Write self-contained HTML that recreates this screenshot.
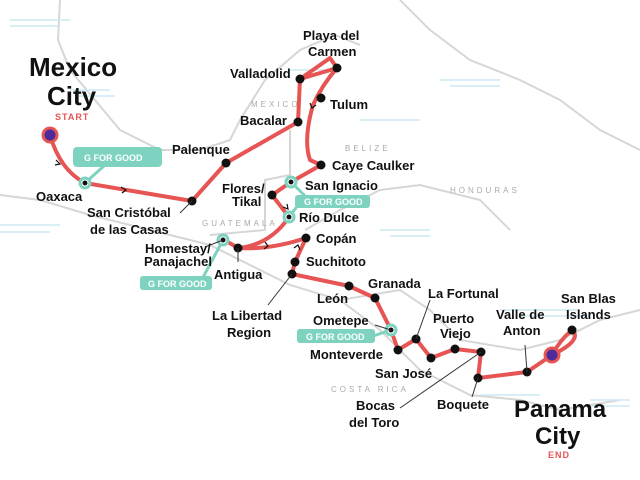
<!DOCTYPE html>
<html><head><meta charset="utf-8"><style>
html,body{margin:0;padding:0;background:#fff}
svg{display:block}
text{font-family:"Liberation Sans",sans-serif;fill:#111}
.l{font-size:13px;font-weight:bold}
.c{font-size:8px;letter-spacing:3px;fill:#aaa}
.g{font-size:9px;fill:#fff;font-weight:bold}
</style></head><body>
<svg width="640" height="480" viewBox="0 0 640 480" xmlns="http://www.w3.org/2000/svg">
<g fill="none" stroke="#d6d6d6" stroke-width="2">
<path d="M60 0 L58 40 L70 70 L95 100 L120 130 L160 150 L200 150 L230 140 L240 120 L265 80 L300 50 L335 35 L360 45"/>
<path d="M0 195 L40 200 L90 215 L150 230 L210 245 L250 265 L290 285 L340 300 L380 330 L420 370 L470 395 L520 400 L560 410 L620 400"/>
<path d="M290 130 L290 175 L265 180 L265 230 L210 235"/>
<path d="M305 230 L340 210 L380 190 L420 185 L480 200 L510 230"/>
<path d="M340 300 L400 290 L430 310 L460 340 L520 350 L560 340 L600 320 L640 310"/>
<path d="M400 0 L430 30 L470 60 L520 80 L560 100 L600 130 L640 150"/>
</g>
<g stroke="#cde8f2" stroke-width="1.5">
<path d="M10 20h60M10 26h50M70 90h40M75 96h40M290 70h50M360 120h60M380 230h50M390 236h40M0 225h60M0 232h50M480 395h60M500 310h80M520 316h70M590 400h40M590 406h40M440 80h60M450 86h50"/>
</g>
<text class="c" x="251" y="107">MEXICO</text>
<text class="c" x="345" y="151">BELIZE</text>
<text class="c" x="450" y="193">HONDURAS</text>
<text class="c" x="202" y="226">GUATEMALA</text>
<text class="c" x="331" y="392">COSTA RICA</text>
<g fill="none" stroke="#e75454" stroke-width="4" stroke-linejoin="round" stroke-linecap="round">
<path d="M50 135 Q60 170 85 183 L192 201 L226 163 L298 122 L300 79 L337 68 Q322 85 313 105 Q303 140 310 160 L321 165 L291 182 L272 195 L289 217 Q270 245 238 248 Q225 240 223 240"/>
<path d="M300 79 L330 58 L337 68"/>
<path d="M238 248 Q270 250 306 238 L295 262 L292 274 L349 286 L375 298 L391 330 L398 350 L416 339 L431 358 L455 349 L481 352 L478 378 L527 372 L552 355 Q560 340 572 330 Q583 340 552 355"/>
</g>
<g fill="none" stroke="#111" stroke-width="1.2">
<path d="M56 160 l4 4 l-5 1"/><path d="M121 187 l5 3 l-4 3"/><path d="M310 103 l2 5 l4 -3"/><path d="M283 207 l5 2 l-1 -5"/><path d="M265 242 l3 4 l-4 3"/><path d="M300 250 l-2 -5 l-4 3"/>
</g>
<g fill="none" stroke="#7dd3c0" stroke-width="3">
<path d="M85 183 L105 165"/><path d="M291 182 L305 196 L289 217"/><path d="M223 240 L200 283"/><path d="M391 330 L370 337"/>
</g>
<g fill="#7dd3c0">
<rect x="73" y="147" width="89" height="20" rx="4"/>
<rect x="295" y="195" width="75" height="13" rx="3"/>
<rect x="140" y="276" width="72" height="14" rx="3"/>
<rect x="297" y="329" width="78" height="14" rx="3"/>
</g>
<text class="g" x="84" y="161" font-size="11">G FOR GOOD</text>
<text class="g" x="304" y="205">G FOR GOOD</text>
<text class="g" x="148" y="287">G FOR GOOD</text>
<text class="g" x="306" y="340">G FOR GOOD</text>
<g fill="#fff" stroke="#7dd3c0" stroke-width="3">
<circle cx="85" cy="183" r="5"/><circle cx="291" cy="182" r="5"/><circle cx="289" cy="217" r="5"/><circle cx="223" cy="240" r="5"/><circle cx="391" cy="330" r="5"/>
</g>
<g fill="#111">
<circle cx="85" cy="183" r="2.5"/><circle cx="291" cy="182" r="2.5"/><circle cx="289" cy="217" r="2.5"/><circle cx="223" cy="240" r="2.5"/><circle cx="391" cy="330" r="2.5"/>
<circle cx="192" cy="201" r="4.5"/><circle cx="226" cy="163" r="4.5"/><circle cx="298" cy="122" r="4.5"/><circle cx="300" cy="79" r="4.5"/><circle cx="337" cy="68" r="4.5"/><circle cx="321" cy="98" r="4.5"/><circle cx="321" cy="165" r="4.5"/><circle cx="272" cy="195" r="4.5"/><circle cx="238" cy="248" r="4.5"/><circle cx="306" cy="238" r="4.5"/><circle cx="295" cy="262" r="4.5"/><circle cx="292" cy="274" r="4.5"/><circle cx="349" cy="286" r="4.5"/><circle cx="375" cy="298" r="4.5"/><circle cx="398" cy="350" r="4.5"/><circle cx="416" cy="339" r="4.5"/><circle cx="431" cy="358" r="4.5"/><circle cx="455" cy="349" r="4.5"/><circle cx="481" cy="352" r="4.5"/><circle cx="478" cy="378" r="4.5"/><circle cx="527" cy="372" r="4.5"/><circle cx="572" cy="330" r="4.5"/>
</g>
<circle cx="50" cy="135" r="7" fill="#4b2c9a" stroke="#e75454" stroke-width="3"/>
<circle cx="552" cy="355" r="7" fill="#4b2c9a" stroke="#e75454" stroke-width="3"/>
<g stroke="#333" stroke-width="1" fill="none">
<path d="M192 201 L180 213"/><path d="M238 248 L238 262"/><path d="M223 240 L205 247"/><path d="M292 274 L268 305"/><path d="M391 330 L375 325"/><path d="M416 339 L430 300"/><path d="M481 352 L400 408"/><path d="M478 378 L472 397"/><path d="M527 372 L525 345"/>
</g>
<text x="29" y="76" style="font-size:26px;font-weight:bold">Mexico</text>
<text x="47" y="105" style="font-size:26px;font-weight:bold">City</text>
<text x="55" y="120" style="font-size:9px;fill:#e75454;letter-spacing:1px;font-weight:bold">START</text>
<text x="514" y="417" style="font-size:24px;font-weight:bold">Panama</text>
<text x="535" y="444" style="font-size:24px;font-weight:bold">City</text>
<text x="548" y="458" style="font-size:9px;fill:#e75454;letter-spacing:1px;font-weight:bold">END</text>
<g class="l">
<text class="l" x="36" y="201">Oaxaca</text>
<text class="l" x="87" y="217">San Cristóbal</text>
<text class="l" x="90" y="234">de las Casas</text>
<text class="l" x="172" y="154">Palenque</text>
<text class="l" x="240" y="125">Bacalar</text>
<text class="l" x="230" y="78">Valladolid</text>
<text class="l" x="303" y="40">Playa del</text>
<text class="l" x="308" y="56">Carmen</text>
<text class="l" x="330" y="109">Tulum</text>
<text class="l" x="332" y="170">Caye Caulker</text>
<text class="l" x="305" y="190">San Ignacio</text>
<text class="l" x="222" y="193">Flores/</text>
<text class="l" x="232" y="206">Tikal</text>
<text class="l" x="299" y="222">Río Dulce</text>
<text class="l" x="316" y="243">Copán</text>
<text class="l" x="306" y="266">Suchitoto</text>
<text class="l" x="145" y="253">Homestay/</text>
<text class="l" x="144" y="266">Panajachel</text>
<text class="l" x="214" y="279">Antigua</text>
<text class="l" x="212" y="320">La Libertad</text>
<text class="l" x="227" y="337">Region</text>
<text class="l" x="368" y="288">Granada</text>
<text class="l" x="317" y="303">León</text>
<text class="l" x="313" y="325">Ometepe</text>
<text class="l" x="310" y="359">Monteverde</text>
<text class="l" x="428" y="298">La Fortunal</text>
<text class="l" x="433" y="323">Puerto</text>
<text class="l" x="440" y="338">Viejo</text>
<text class="l" x="375" y="378">San José</text>
<text class="l" x="356" y="410">Bocas</text>
<text class="l" x="349" y="427">del Toro</text>
<text class="l" x="437" y="409">Boquete</text>
<text class="l" x="496" y="319">Valle de</text>
<text class="l" x="503" y="335">Anton</text>
<text class="l" x="561" y="303">San Blas</text>
<text class="l" x="566" y="319">Islands</text>
</g>
</svg>
</body></html>
